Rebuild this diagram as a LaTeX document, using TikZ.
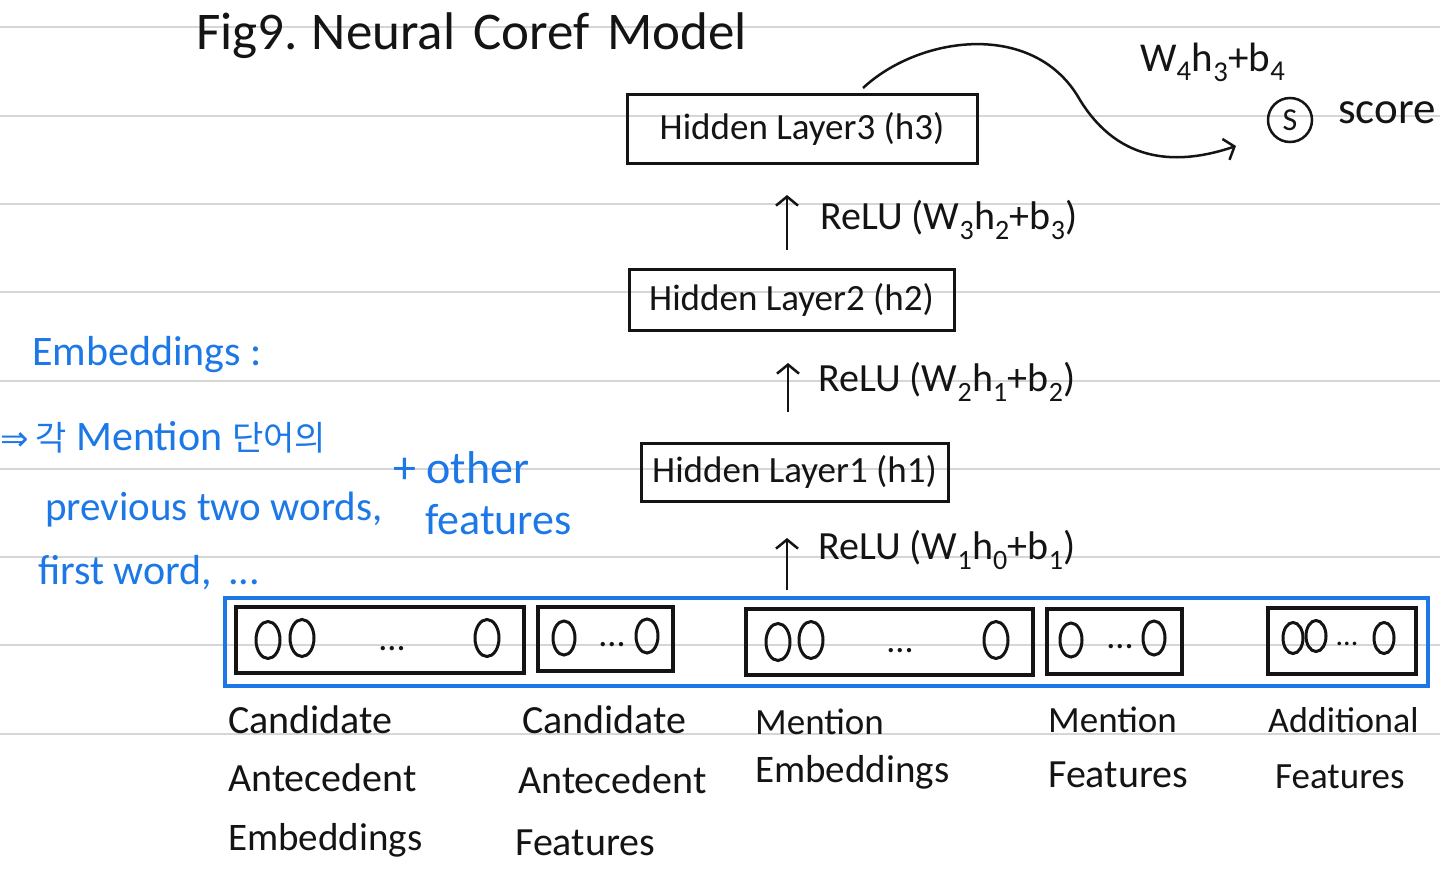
\documentclass[tikz,border=0pt]{standalone}
\usepackage{fontspec}
\setmainfont{Carlito}
\newfontfamily\kr{Noto Sans CJK KR}
\newfontfamily\dv{DejaVu Sans}
\usetikzlibrary{arrows.meta,shapes.geometric}
\definecolor{pen}{RGB}{20,20,20}
\definecolor{bluepen}{RGB}{28,120,230}
\definecolor{rule}{RGB}{214,214,214}
\newcommand{\fs}[1]{\fontsize{#1}{#1}\selectfont}
\begin{document}
\begin{tikzpicture}[x=1pt,y=-1pt,
  rulel/.style={draw=rule,line width=2.5pt},
  layerbox/.style={draw=pen,line width=3pt,inner sep=0pt,text=pen,font=\fs{37}},
  vecbox/.style={draw=pen,line width=3.5pt,inner sep=0pt},
  neuron/.style={draw=pen,line width=3pt,ellipse,minimum width=24pt,minimum height=37pt,inner sep=0pt},
  sneuron/.style={neuron,minimum width=22pt,minimum height=34pt},
  dots/.style={anchor=base,inner sep=0pt,text=pen,font=\fs{36}},
  lbl/.style={anchor=west,inner sep=0pt,text=pen,font=\fs{40}},
  blbl/.style={anchor=west,inner sep=0pt,text=bluepen,font=\fs{42}},
  uparrow/.style={draw=pen,line width=2.5pt,-{Straight Barb[length=9pt,width=22pt,line width=2.5pt]}},
]
\useasboundingbox[fill=white] (0,0) rectangle (1440,875);
% ruled lines
\foreach \yy in {27,116,204,292,381,469,557,645,734}
  \draw[rulel] (0,\yy) -- (1440,\yy);

% title
\node[lbl,font=\fs{53}] (title) at (196,36) {Fig9.\hspace{14pt}Neural\hspace{18pt}Coref\hspace{18pt}Model};

% hidden layers
\node[layerbox,minimum width=350pt,minimum height=69pt] (h3) at (802,128.5) {Hidden Layer3 (h3)};
\node[layerbox,minimum width=325pt,minimum height=61pt] (h2) at (791.5,299.5) {Hidden Layer2 (h2)};
\node[layerbox,minimum width=307pt,minimum height=58pt] (h1) at (794.5,472) {Hidden Layer1 (h1)};

% relu arrows
\coordinate (a3s) at (787,250); \coordinate (a3e) at (787,195);
\coordinate (a2s) at (788,412); \coordinate (a2e) at (788,363);
\coordinate (a1s) at (787,590); \coordinate (a1e) at (787,538);
\draw[uparrow] (a3s) -- (a3e);
\draw[uparrow] (a2s) -- (a2e);
\draw[uparrow] (a1s) -- (a1e);
\node[lbl] (r3) at (820,220) {ReLU (W\textsubscript{3}h\textsubscript{2}+b\textsubscript{3})};
\node[lbl] (r2) at (818,382) {ReLU (W\textsubscript{2}h\textsubscript{1}+b\textsubscript{2})};
\node[lbl] (r1) at (818,550) {ReLU (W\textsubscript{1}h\textsubscript{0}+b\textsubscript{1})};

% score
\node[draw=pen,line width=2.5pt,circle,minimum size=44pt,inner sep=0pt,text=pen,font=\fs{32}] (s) at (1290,120) {S};
\node[lbl,font=\fs{45}] (score) at (1338,113) {score};
\node[lbl,font=\fs{41}] (w4) at (1140,62) {W\textsubscript{4}h\textsubscript{3}+b\textsubscript{4}};
\coordinate (cs) at (863,88);
\coordinate (ce) at (1236,146);
\draw[draw=pen,line width=2.5pt,-{Straight Barb[length=9pt,width=22pt,line width=2.5pt]}]
  (cs) .. controls (920,35) and (1035,20) .. (1080,100)
       .. controls (1120,165) and (1180,165) .. (ce);

% input vector
\node[draw=bluepen,line width=4pt,minimum width=1203pt,minimum height=88pt,inner sep=0pt] (inp) at (826.5,642) {};
\node[vecbox,minimum width=288pt,minimum height=66pt] (cae) at (380,640) {};
\node[vecbox,minimum width=135pt,minimum height=64pt] (caf) at (605.5,639) {};
\node[vecbox,minimum width=287pt,minimum height=66pt] (me) at (889.5,642) {};
\node[vecbox,minimum width=135pt,minimum height=65pt] (mf) at (1114.5,641.5) {};
\node[vecbox,minimum width=148pt,minimum height=66pt] (af) at (1342,641) {};

% neurons
\node[neuron] (n1) at (268,640) {};
\node[neuron] (n2) at (302,638) {};
\node[dots] (d1) at (392,650) {...};
\node[neuron] (n3) at (487,638) {};
\node[sneuron] (n4) at (564,638) {};
\node[dots] (d2) at (612,646) {...};
\node[sneuron] (n5) at (647,636) {};
\node[neuron] (n6) at (778,642) {};
\node[neuron] (n7) at (811,640) {};
\node[dots] (d3) at (900,652) {...};
\node[neuron] (n8) at (996,640) {};
\node[sneuron] (n9) at (1071,640) {};
\node[dots] (d4) at (1120,648) {...};
\node[sneuron] (n10) at (1154,638) {};
\node[sneuron,minimum width=20pt,minimum height=31pt] (n11) at (1293,638) {};
\node[sneuron,minimum width=20pt,minimum height=31pt] (n12) at (1316,636) {};
\node[dots,font=\fs{30}] (d5) at (1347,645) {...};
\node[sneuron,minimum width=20pt,minimum height=31pt] (n13) at (1384,638) {};

% bottom labels
\node[lbl] (l1a) at (228,720) {Candidate};
\node[lbl] (l1b) at (228,778) {Antecedent};
\node[lbl,font=\fs{39}] (l1c) at (228,840) {Embeddings};
\node[lbl] (l2a) at (522,720) {Candidate};
\node[lbl] (l2b) at (518,780) {Antecedent};
\node[lbl] (l2c) at (515,843) {Features};
\node[lbl,font=\fs{37}] (l3a) at (755,722) {Mention};
\node[lbl,font=\fs{39}] (l3b) at (755,772) {Embeddings};
\node[lbl,font=\fs{37}] (l4a) at (1048,720) {Mention};
\node[lbl] (l4b) at (1048,775) {Features};
\node[lbl,font=\fs{36}] (l5a) at (1268,720) {Additional};
\node[lbl,font=\fs{37}] (l5b) at (1275,777) {Features};

% blue notes
\node[blbl] (e1) at (32,355) {Embeddings :};
\node[blbl] (e2) at (0,437) {{\dv\fs{34}⇒}\,{\kr\fs{34}각} Mention {\kr\fs{34}단어의}};
\node[blbl,font=\fs{41}] (e3) at (45,510) {previous two words,};
\node[blbl] (e4) at (38,573) {first word,\hspace{16pt}...};
\node[blbl,font=\fs{46}] (e5) at (393,468) {+ other};
\node[blbl,font=\fs{44}] (e6) at (425,520) {features};
\end{tikzpicture}
\end{document}
